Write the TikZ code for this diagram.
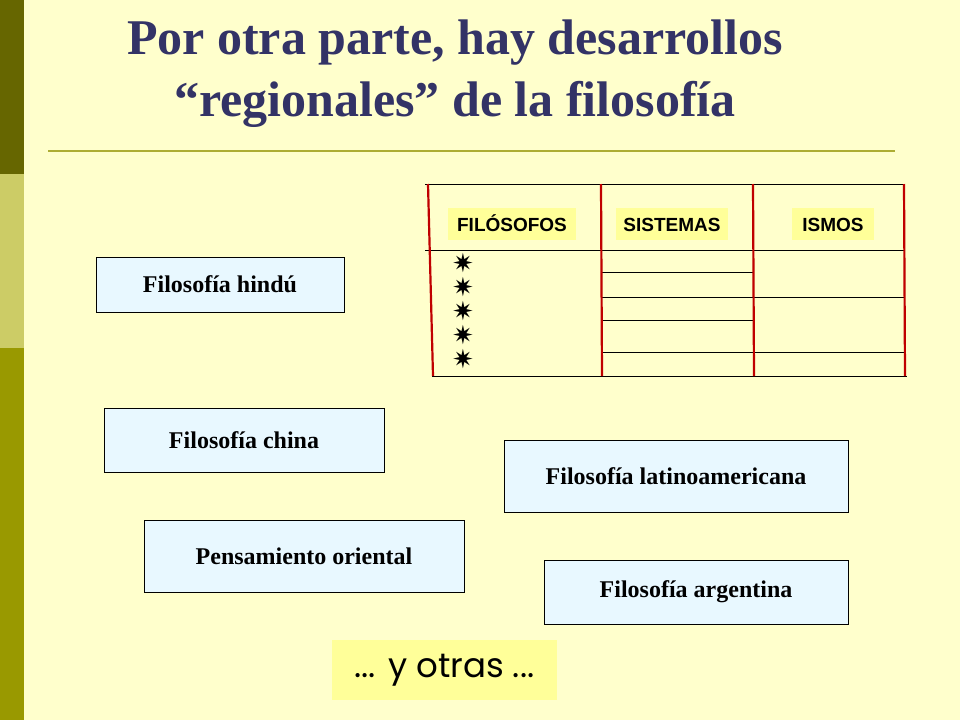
\documentclass[tikz,border=0pt]{standalone}
\usepackage{fontspec}
\setmainfont{Liberation Serif}
\newfontfamily\arialfont{Liberation Sans}
\newfontfamily\symfont{DejaVu Sans}
\newfontfamily\otrasfont{Poppins}
\definecolor{bgyellow}{HTML}{FFFFCC}
\definecolor{bardark}{HTML}{666600}
\definecolor{barlight}{HTML}{CCCC66}
\definecolor{barmid}{HTML}{999900}
\definecolor{titleblue}{HTML}{333366}
\definecolor{boxblue}{HTML}{E8F8FF}
\definecolor{tagyellow}{HTML}{FFFF99}
\definecolor{tablered}{HTML}{C00000}
\tikzset{
  regionbox/.style={draw=black, fill=boxblue, font=\bfseries\fontsize{24}{28}\selectfont, inner sep=0pt},
  headtag/.style={fill=tagyellow, font=\arialfont\bfseries\fontsize{19}{22}\selectfont, inner sep=0pt,
    text height=14pt, text depth=0pt},
  redline/.style={draw=tablered, line width=2.2pt},
  rowline/.style={draw=black, line width=0.6pt}
}
\begin{document}
\begin{tikzpicture}[x=1pt,y=-1pt]
  \fill[bgyellow] (0,0) rectangle (960,720);
  \useasboundingbox (0,0) rectangle (960,720);
  % left bar
  \fill[bardark] (0,0) rectangle (24,174);
  \fill[barlight] (0,174) rectangle (24,348);
  \fill[barmid] (0,348) rectangle (24,720);
  % title
  \node[text=titleblue, font=\bfseries\fontsize{50}{62}\selectfont, align=center] (title) at (455,74)
    {Por otra parte, hay desarrollos\\``regionales'' de la filosofía};
  \draw[draw=barmid!80!white, line width=1.5pt] (48,151) -- (895,151);
  % table
  \draw[rowline] (425,184) -- (905,184);
  \draw[rowline] (425,250) -- (905,250);
  \draw[rowline] (432,376) -- (907,376);
  \draw[rowline] (601,272) -- (753,272);
  \draw[rowline] (601,297) -- (905,297);
  \draw[rowline] (601,320) -- (753,320);
  \draw[rowline] (601,352) -- (905,352);
  \foreach \x in {601,753,904}
    \draw[redline] (\x,184) -- (\x+1,376);
  \draw[redline] (428,184) -- (433,376);
  \node[headtag, minimum width=128pt, minimum height=32pt] (filosofos) at (512,224) {FILÓSOFOS};
  \node[headtag, minimum width=112pt, minimum height=32pt] (sistemas) at (672,224) {SISTEMAS};
  \node[headtag, minimum width=82pt, minimum height=32pt] (ismos) at (833,224) {ISMOS};
  \foreach \y in {263,287,311,335,359}
    \node[font=\symfont\fontsize{26}{26}\selectfont, inner sep=0pt] at (463,\y) {✷};
  % regions
  \node[regionbox, minimum width=248pt, minimum height=55pt] (hindu) at (220,284.5) {Filosofía hindú};
  \node[regionbox, minimum width=280pt, minimum height=64pt] (china) at (244,440) {Filosofía china};
  \node[regionbox, minimum width=344pt, minimum height=72pt] (latino) at (676,476) {Filosofía latinoamericana};
  \node[regionbox, minimum width=320pt, minimum height=72pt] (oriental) at (304,556) {Pensamiento oriental};
  \node[regionbox, minimum width=304pt, minimum height=64pt] (argentina) at (696,592) {Filosofía argentina};
  \node[fill=tagyellow, minimum width=225pt, minimum height=60pt, inner sep=0pt,
    font=\otrasfont\fontsize{34}{40}\selectfont] (otras) at (444.5,670) {... y otras ...};
\end{tikzpicture}
\end{document}
